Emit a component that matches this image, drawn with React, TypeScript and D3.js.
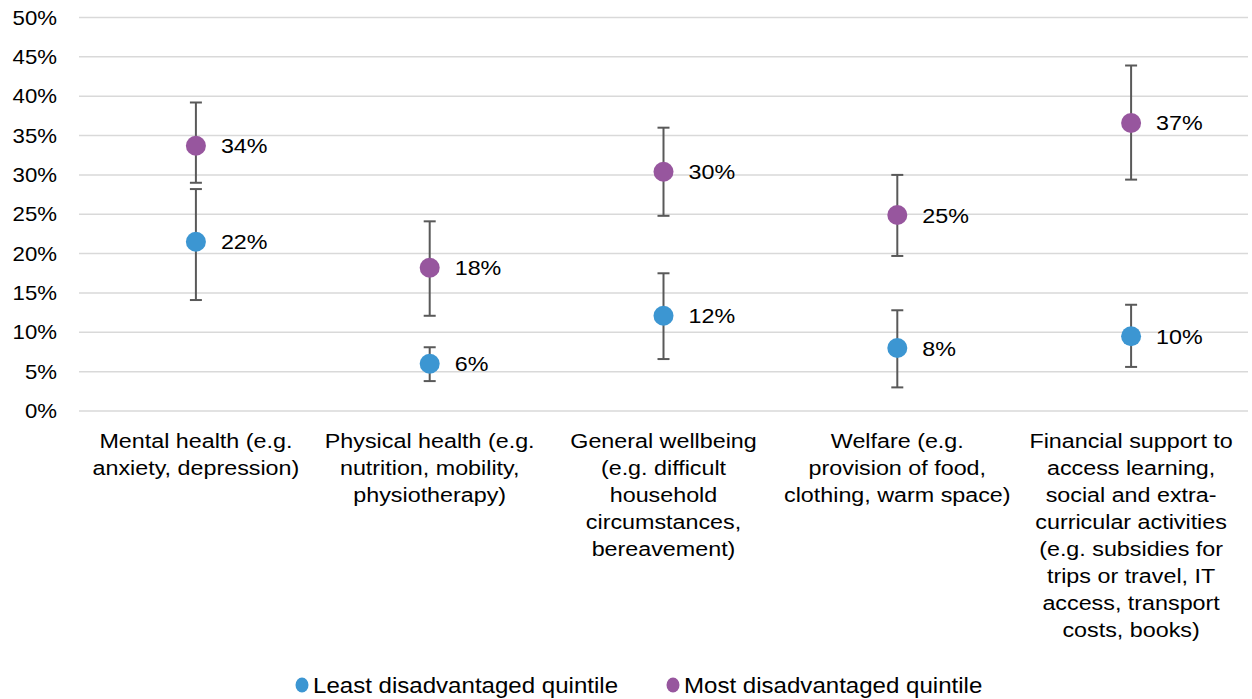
import React from "react";
import * as d3 from "d3";

const categories: string[][] = [
  ["Mental health (e.g.", "anxiety, depression)"],
  ["Physical health (e.g.", "nutrition, mobility,", "physiotherapy)"],
  ["General wellbeing", "(e.g. difficult", "household", "circumstances,", "bereavement)"],
  ["Welfare (e.g.", "provision of food,", "clothing, warm space)"],
  ["Financial support to", "access learning,", "social and extra-", "curricular activities", "(e.g. subsidies for", "trips or travel, IT", "access, transport", "costs, books)"],
];

const leastValues = [0.215, 0.06, 0.121, 0.08, 0.095];
const leastLow = [0.141, 0.038, 0.066, 0.030, 0.056];
const leastHigh = [0.282, 0.081, 0.175, 0.128, 0.135];
const leastLabels = ["22%", "6%", "12%", "8%", "10%"];

const mostValues = [0.337, 0.182, 0.304, 0.249, 0.366];
const mostLow = [0.29, 0.121, 0.248, 0.197, 0.294];
const mostHigh = [0.392, 0.241, 0.36, 0.30, 0.439];
const mostLabels = ["34%", "18%", "30%", "25%", "37%"];

const yTicks = [0, 0.05, 0.1, 0.15, 0.2, 0.25, 0.3, 0.35, 0.4, 0.45, 0.5];
const seriesNames = ["Least disadvantaged quintile", "Most disadvantaged quintile"];
const colors = ["#3C96D2", "#97569E"];

export default function App() {
  const W = 1252, H = 699;
  const left = 79, right = 1248, top = 17.5, bottom = 411;
  const x = d3.scaleBand<number>().domain(d3.range(categories.length)).range([left, right]);
  const y = d3.scaleLinear().domain([0, 0.5]).range([bottom, top]);
  const font = "'Liberation Sans', Arial, sans-serif";
  const fmt = d3.format(".0%");
  const sx = 1.11;

  const series = [
    { values: leastValues, low: leastLow, high: leastHigh, labels: leastLabels, color: colors[0] },
    { values: mostValues, low: mostLow, high: mostHigh, labels: mostLabels, color: colors[1] },
  ];

  return (
    <svg width={W} height={H} style={{ position: "absolute", left: 0, top: 0, background: "#fff" }} fontFamily={font}>
      {yTicks.map((t) => (
        <g key={t}>
          <line x1={left} x2={right} y1={y(t)} y2={y(t)} stroke="#D9D9D9" strokeWidth={1.5} />
          <text transform={`translate(57,${y(t) + 7}) scale(${sx},1)`} textAnchor="end" fontSize={20} fill="#000">{fmt(t)}</text>
        </g>
      ))}
      {categories.map((lines, i) => {
        const cx = x(i)! + x.bandwidth() / 2;
        return (
          <g key={i}>
            {lines.map((l, j) => (
              <text key={j} transform={`translate(${cx},${447.5 + j * 27.1}) scale(${sx},1)`} textAnchor="middle" fontSize={21} fill="#000">{l}</text>
            ))}
          </g>
        );
      })}
      {series.map((s, si) => (
        <g key={si}>
          {s.values.map((v, i) => {
            const cx = x(i)! + x.bandwidth() / 2;
            return (
              <g key={i}>
                <line x1={cx} x2={cx} y1={y(s.low[i])} y2={y(s.high[i])} stroke="#595959" strokeWidth={2} />
                <line x1={cx - 6} x2={cx + 6} y1={y(s.low[i])} y2={y(s.low[i])} stroke="#595959" strokeWidth={2} />
                <line x1={cx - 6} x2={cx + 6} y1={y(s.high[i])} y2={y(s.high[i])} stroke="#595959" strokeWidth={2} />
              </g>
            );
          })}
        </g>
      ))}
      {series.map((s, si) => (
        <g key={"p" + si}>
          {s.values.map((v, i) => {
            const cx = x(i)! + x.bandwidth() / 2;
            return (
              <g key={i}>
                <circle cx={cx} cy={y(v)} r={10} fill={s.color} />
                <text transform={`translate(${cx + 25},${y(v) + 7.5}) scale(${sx},1)`} fontSize={21} fill="#000">{s.labels[i]}</text>
              </g>
            );
          })}
        </g>
      ))}
      {seriesNames.map((n, i) => {
        const lx = [302, 673][i];
        return (
          <g key={n}>
            <ellipse cx={lx} cy={685} rx={6.5} ry={7.5} fill={colors[i]} />
            <text transform={`translate(${lx + 11},692.5) scale(1.12,1)`} fontSize={21.5} fill="#000">{n}</text>
          </g>
        );
      })}
    </svg>
  );
}
